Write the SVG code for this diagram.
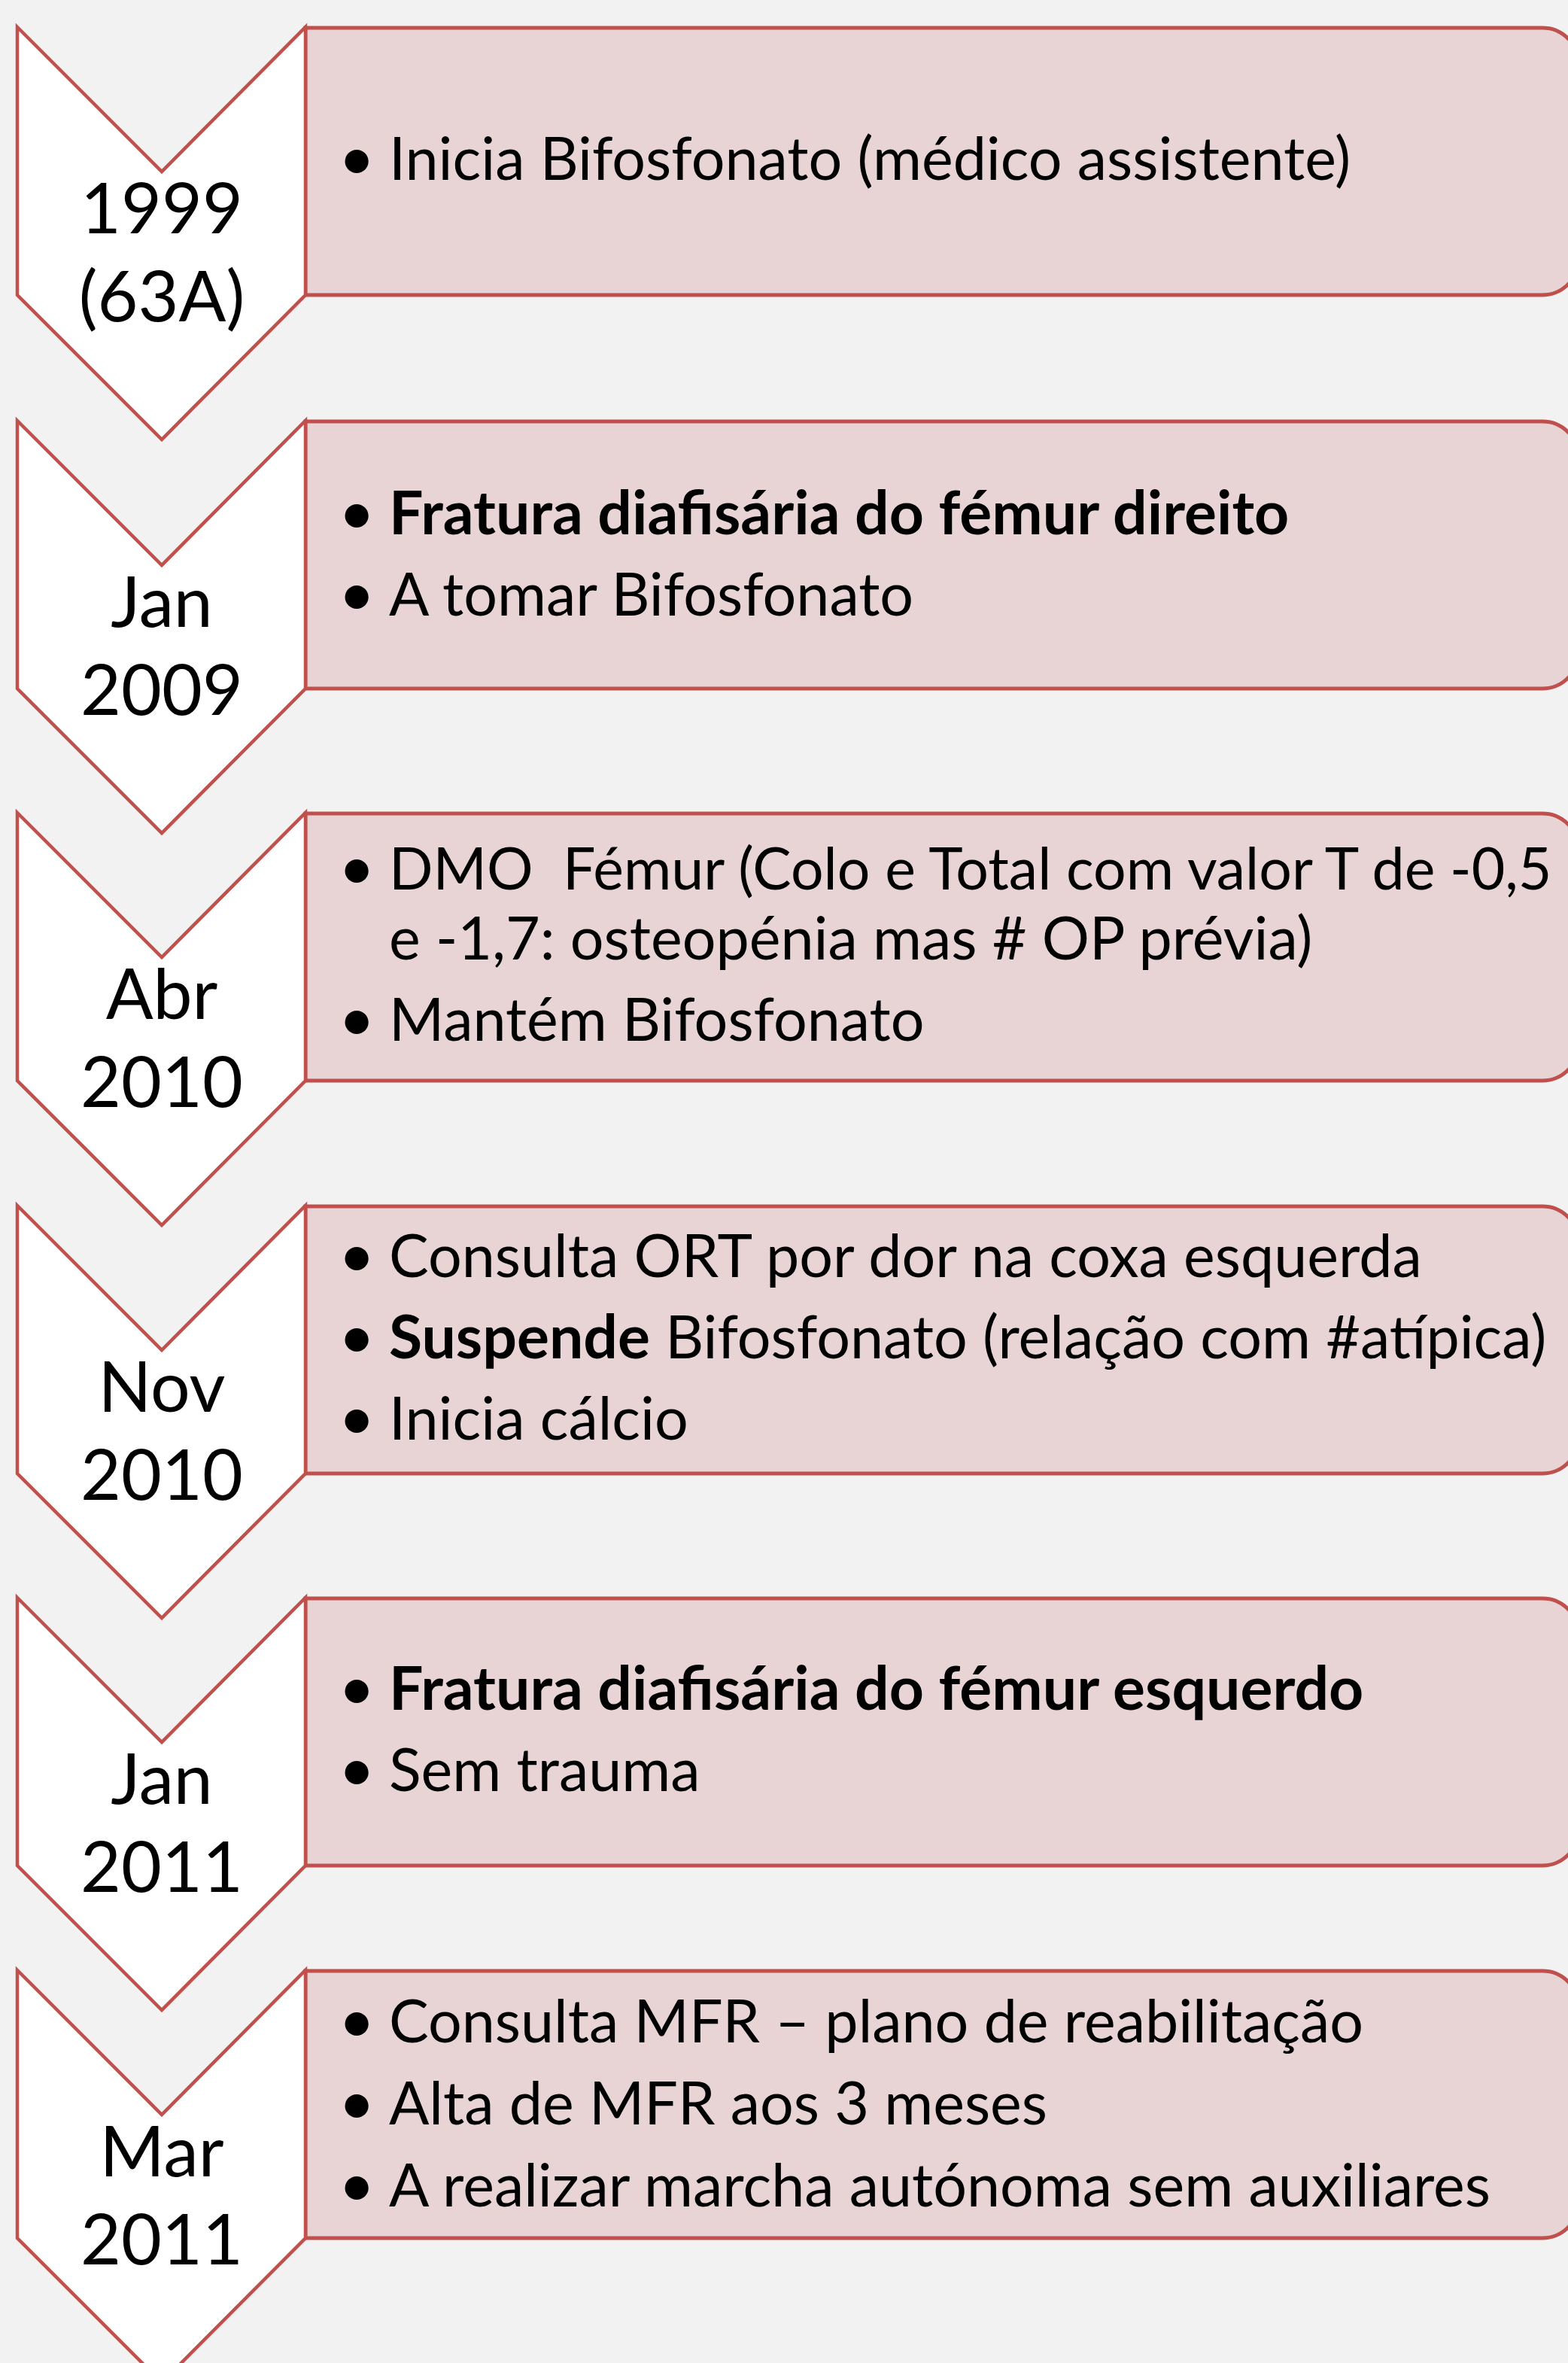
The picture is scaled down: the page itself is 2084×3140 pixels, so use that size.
<svg xmlns="http://www.w3.org/2000/svg" width="2084" height="3140" viewBox="0 0 2084 3140">
<style>
.chev{fill:#FFFFFF;stroke:#BF504C;stroke-width:4.5;stroke-linejoin:miter}
.box{fill:#E8D4D4;stroke:#C0504D;stroke-width:5}
.lbl{font-family:Lato,"Open Sans","Liberation Sans",sans-serif;font-size:93px;fill:#000;text-anchor:middle}
.txt{font-family:Lato,"Open Sans","Liberation Sans",sans-serif;font-size:79px;fill:#000}
.txs{font-family:Lato,"Open Sans","Liberation Sans",sans-serif;font-size:77px;fill:#000}
.bul{font-family:Lato,"Open Sans","Liberation Sans",sans-serif;font-size:84px;fill:#000;text-anchor:middle}
.b{font-weight:bold;font-size:80.5px}
</style>
<rect width="2084" height="3140" fill="#F2F2F2"/>
<g id="connectors"/>

<g id="node1">
<path class="box" d="M406,37 H2050 A48,48 0 0 1 2098,85 V344 A48,48 0 0 1 2050,392 H406 Z"/>
<path class="chev" d="M23,36 L215,228 L406,36 L406,392 L215,584 L23,392 Z"/>
<text class="lbl" x="215" y="310">1999</text>
<text class="lbl" x="215" y="427">(63A)</text>
<text class="bul" x="474" y="239">•</text>
<text class="txt" x="517" y="239">Inicia Bifosfonato (médico assistente)</text>
</g>

<g id="node2">
<path class="box" d="M406,560 H2050 A48,48 0 0 1 2098,608 V867 A48,48 0 0 1 2050,915 H406 Z"/>
<path class="chev" d="M23,559 L215,751 L406,559 L406,915 L215,1107 L23,915 Z"/>
<text class="lbl" x="215" y="833">Jan</text>
<text class="lbl" x="215" y="950">2009</text>
<text class="bul" x="474" y="710">•</text>
<text class="txt b" x="517" y="710">Fratura diafisária do fémur direito</text>
<text class="bul" x="474" y="818">•</text>
<text class="txt" x="517" y="818">A tomar Bifosfonato</text>
</g>

<g id="node3">
<path class="box" d="M406,1081 H2050 A48,48 0 0 1 2098,1129 V1388 A48,48 0 0 1 2050,1436 H406 Z"/>
<path class="chev" d="M23,1080 L215,1272 L406,1080 L406,1436 L215,1628 L23,1436 Z"/>
<text class="lbl" x="215" y="1354">Abr</text>
<text class="lbl" x="215" y="1471">2010</text>
<text class="bul" x="474" y="1182">•</text>
<text class="txs" x="517" y="1182" xml:space="preserve">DMO  Fémur (Colo e Total com valor T de -0,5</text>
<text class="txt" x="517" y="1275">e -1,7: osteopénia mas # OP prévia)</text>
<text class="bul" x="474" y="1383">•</text>
<text class="txt" x="517" y="1383">Mantém Bifosfonato</text>
</g>

<g id="node4">
<path class="box" d="M406,1603 H2050 A48,48 0 0 1 2098,1651 V1910 A48,48 0 0 1 2050,1958 H406 Z"/>
<path class="chev" d="M23,1602 L215,1794 L406,1602 L406,1958 L215,2150 L23,1958 Z"/>
<text class="lbl" x="215" y="1876">Nov</text>
<text class="lbl" x="215" y="1993">2010</text>
<text class="bul" x="474" y="1697">•</text>
<text class="txt" x="517" y="1697">Consulta ORT por dor na coxa esquerda</text>
<text class="bul" x="474" y="1805">•</text>
<text class="txt" x="517" y="1805"><tspan class="b">Suspende</tspan> Bifosfonato (relação com #atípica)</text>
<text class="bul" x="474" y="1913">•</text>
<text class="txt" x="517" y="1913">Inicia cálcio</text>
</g>

<g id="node5">
<path class="box" d="M406,2124 H2050 A48,48 0 0 1 2098,2172 V2431 A48,48 0 0 1 2050,2479 H406 Z"/>
<path class="chev" d="M23,2123 L215,2315 L406,2123 L406,2479 L215,2671 L23,2479 Z"/>
<text class="lbl" x="215" y="2397">Jan</text>
<text class="lbl" x="215" y="2514">2011</text>
<text class="bul" x="474" y="2272">•</text>
<text class="txt b" x="517" y="2272">Fratura diafisária do fémur esquerdo</text>
<text class="bul" x="474" y="2380">•</text>
<text class="txt" x="517" y="2380">Sem trauma</text>
</g>

<g id="node6">
<path class="box" d="M406,2619 H2050 A48,48 0 0 1 2098,2667 V2926 A48,48 0 0 1 2050,2974 H406 Z"/>
<path class="chev" d="M23,2618 L215,2810 L406,2618 L406,2974 L215,3166 L23,2974 Z"/>
<text class="lbl" x="215" y="2892">Mar</text>
<text class="lbl" x="215" y="3009">2011</text>
<text class="bul" x="474" y="2714">•</text>
<text class="txt" x="517" y="2714">Consulta MFR – plano de reabilitação</text>
<text class="bul" x="474" y="2823">•</text>
<text class="txt" x="517" y="2823">Alta de MFR aos 3 meses</text>
<text class="bul" x="474" y="2932">•</text>
<text class="txt" x="517" y="2932">A realizar marcha autónoma sem auxiliares</text>
</g>
</svg>
